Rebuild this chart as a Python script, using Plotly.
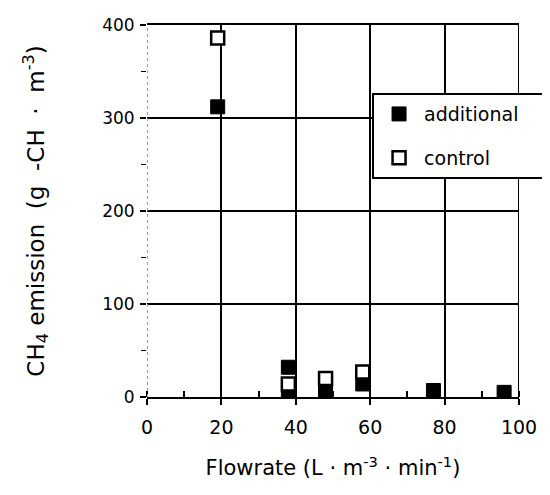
import plotly.graph_objects as go

# Data
add_x = [19, 38, 38, 48, 58, 77, 96]
add_y = [312, 32, 1, 7, 14, 7, 5]
ctl_x = [19, 38, 48, 58]
ctl_y = [386, 14, 20, 27]

x_ticks = [0, 20, 40, 60, 80, 100]
y_ticks = [0, 100, 200, 300, 400]

FONT = "DejaVu Sans"
NB = "\u00a0"

fig = go.Figure()
fig.add_trace(go.Scatter(
    x=add_x, y=add_y, mode="markers", name="additional" + NB * 4,
    legendgroup="a",
    marker=dict(symbol="square", size=14, color="black",
                line=dict(color="black", width=1)),
))
fig.add_trace(go.Scatter(
    x=ctl_x, y=ctl_y, mode="markers", name="control",
    legendgroup="c",
    marker=dict(symbol="square", size=13, color="white",
                line=dict(color="black", width=2.5)),
))

# plot-frame edges (left edge is a faint dotted line, right edge solid)
fig.add_shape(type="line", xref="x", yref="paper", x0=0, x1=0, y0=0, y1=1,
              line=dict(color="#9a9a9a", width=2, dash="dot"), layer="above")
fig.add_shape(type="line", xref="x", yref="paper", x0=100, x1=100, y0=0, y1=1,
              line=dict(color="black", width=2), layer="above")

fig.update_layout(
    width=542, height=487,
    margin=dict(l=139, r=31, t=17, b=98, autoexpand=False),
    paper_bgcolor="white", plot_bgcolor="white",
    font=dict(family=FONT, size=17, color="black"),
    showlegend=True,
    legend=dict(
        x=0.605, y=0.817, xanchor="left", yanchor="top",
        bgcolor="white", bordercolor="black", borderwidth=2,
        font=dict(family=FONT, size=19, color="black"),
        tracegroupgap=16, itemwidth=40,
    ),
    xaxis=dict(
        range=[0, 100], tickvals=x_ticks, ticktext=[str(v) for v in x_ticks],
        tickfont=dict(size=19),
        showgrid=True, gridcolor="black", gridwidth=2,
        zeroline=False,
        showline=True, mirror=True, linecolor="black", linewidth=2,
        ticks="outside", ticklen=6, tickwidth=2, tickcolor="black",
        ticklabelstandoff=6,
        minor=dict(dtick=10, tick0=0, ticks="inside", ticklen=6,
                   tickwidth=2, tickcolor="black", showgrid=False),
        title=dict(text="Flowrate" + NB + "(L" + NB + "·" + NB + "m<sup>-3</sup>" + NB + "·" + NB + "min<sup>-1</sup>)",
                   standoff=24, font=dict(size=21)),
        automargin=False, fixedrange=True,
    ),
    yaxis=dict(
        range=[0, 400], tickvals=y_ticks, ticktext=[str(v) for v in y_ticks],
        tickfont=dict(size=17),
        showgrid=True, gridcolor="black", gridwidth=2,
        zeroline=False, showline=False,
        ticks="outside", ticklen=6, tickwidth=2, tickcolor="black",
        ticklabelstandoff=2,
        minor=dict(dtick=50, tick0=0, ticks="outside", ticklen=5,
                   tickwidth=1, tickcolor="black", showgrid=False),
        title=dict(text="CH<sub>4</sub>" + NB + "emission" + NB * 2 + "(g" + NB * 2 + "-CH" + NB * 2 + "·" + NB * 2 + "m<sup>-3</sup>)" + NB * 15,
                   standoff=51, font=dict(size=23)),
        automargin=False, fixedrange=True,
    ),
)

fig.write_html("out.html")
